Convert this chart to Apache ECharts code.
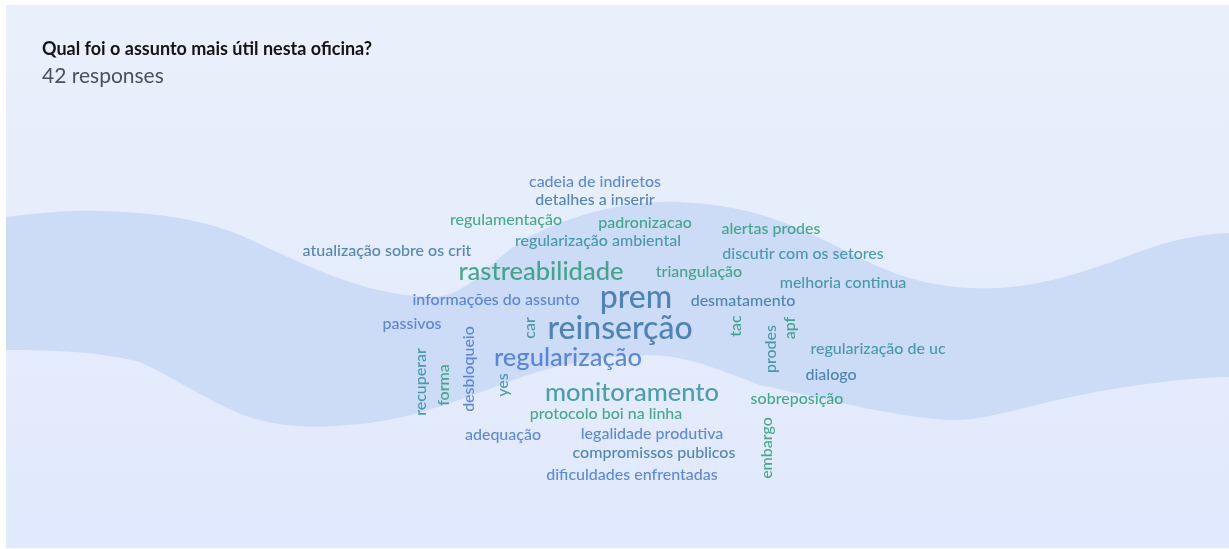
<!DOCTYPE html>
<html>
<head>
<meta charset="utf-8">
<script src="https://cdn.jsdelivr.net/npm/echarts@6/dist/echarts.min.js"></script>
<style>
html,body{margin:0;padding:0;background:#ffffff;}
#chart{position:absolute;left:0;top:0;width:1229px;height:549px;}
</style>
</head>
<body>
<div id="chart"></div>
<script>
// ---- data ----
const titleText = 'Qual foi o assunto mais útil nesta oficina?';
const subtitleText = '42 responses';

const words = [
  'cadeia de indiretos','detalhes a inserir','regulamentação','padronizacao','regularização ambiental',
  'alertas prodes','atualização sobre os crit','discutir com os setores','rastreabilidade','triangulação',
  'melhoria continua','informações do assunto','prem','desmatamento','passivos',
  'car','reinserção','tac','prodes','apf',
  'regularização de uc','recuperar','forma','desbloqueio','yes',
  'regularização','dialogo','monitoramento','sobreposição','protocolo boi na linha',
  'adequação','legalidade produtiva','compromissos publicos','embargo','dificuldades enfrentadas'
];
// number of mentions (drives word size)
const weights = [
  1,1,1,1,1,
  1,1,1,2,1,
  1,1,3,1,1,
  1,3,1,1,1,
  1,1,1,1,1,
  2,1,2,1,1,
  1,1,1,1,1
];
// word cloud layout coordinates (cloud units)
const wordX = [
  595,595,506,645,598,
  771,387,803,541,699,
  843,496,636,743,412,
  530,620,736,771,790,
  878,421,444,469,503,
  568,831,632,797,606,
  503,652,654,767,632
];
const wordY = [
  182,200,220,223,241,
  229,251,254,272,272,
  283,300,298,301,324,
  328,329,326,349,328,
  349,382,385,369,385,
  358,375,393,399,414,
  435,434,453,448,475
];
// 0 = horizontal, 1 = vertical
const vertical = [
  0,0,0,0,0,
  0,0,0,0,0,
  0,0,0,0,0,
  1,0,1,1,1,
  0,1,1,1,1,
  0,0,0,0,0,
  0,0,0,1,0
];
// colour group: 0 blue, 1 steel, 2 teal, 3 green
const colorGroup = [
  0,1,3,3,2,
  3,1,2,3,3,
  2,0,1,1,0,
  2,1,3,2,3,
  2,2,3,0,2,
  0,1,2,3,3,
  0,0,1,3,0
];

// ---- styles ----
const palette = ['#3b70d4','#2d6ea2','#268a98','#1f9770'];
const FONT = 'Lato, "Noto Sans", sans-serif';
function sizeOf(w){ return w === 3 ? 32 : (w === 2 ? 25.5 : 16); }

const seriesData = words.map((w, i) => ({
  value: [wordX[i], wordY[i]],
  name: w,
  label: {
    show: true,
    formatter: w,
    position: 'inside',
    align: 'center',
    verticalAlign: 'middle',
    rotate: vertical[i] ? 90 : 0,
    fontSize: sizeOf(weights[i]),
    color: palette[colorGroup[i]],
    fontFamily: FONT,
    fontWeight: 500
  }
}));

const bandPath =
  'M6,217 C40,213 70,210 100,211 C160,213 200,219 240,235 C300,262 360,295 430,297 ' +
  'C470,298 490,258 530,236 C580,212 630,200 680,202 C760,206 800,228 860,258 ' +
  'C910,283 950,290 1000,288 C1060,284 1110,262 1150,248 C1180,238 1205,234 1229,233 ' +
  'L1229,377 C1180,378 1100,388 1029,407 C990,416 970,421 950,420 C900,418 830,400 760,385 ' +
  'C720,370 690,356 650,355 C600,355 550,365 500,385 C440,408 400,420 360,424 ' +
  'C320,428 290,428 260,420 C220,410 180,380 140,362 C100,352 60,350 6,350 Z';
echarts.graphic.registerShape('waveBand', echarts.graphic.extendPath(bandPath, {}));

const chart = echarts.init(document.getElementById('chart'), null, {renderer: 'canvas'});

chart.setOption({
  backgroundColor: '#ffffff',
  animation: false,
  title: {
    text: titleText,
    subtext: subtitleText,
    left: 37,
    top: 35,
    itemGap: 8,
    textStyle: {fontFamily: FONT, fontSize: 18, fontWeight: 'bold', color: '#141414'},
    subtextStyle: {fontFamily: FONT, fontSize: 21, fontWeight: 400, color: '#4b505a'}
  },
  graphic: [
    {type: 'rect', z: -10, silent: true, shape: {x: 6, y: 5, width: 1223, height: 543},
      style: {fill: new echarts.graphic.LinearGradient(0, 0, 0, 1, [
        {offset: 0, color: '#eaf0fb'}, {offset: 1, color: '#e0e9fd'}])}},
    {type: 'waveBand', z: -9, silent: true, style: {fill: '#ccdbf6'}}
  ],
  grid: {left: 0, right: 0, top: 0, bottom: 0},
  xAxis: {type: 'value', min: 0, max: 1229, show: false},
  yAxis: {type: 'value', min: 0, max: 549, inverse: true, show: false},
  series: [{
    type: 'scatter',
    symbolSize: 0,
    silent: true,
    data: seriesData
  }]
});
</script>
</body>
</html>
